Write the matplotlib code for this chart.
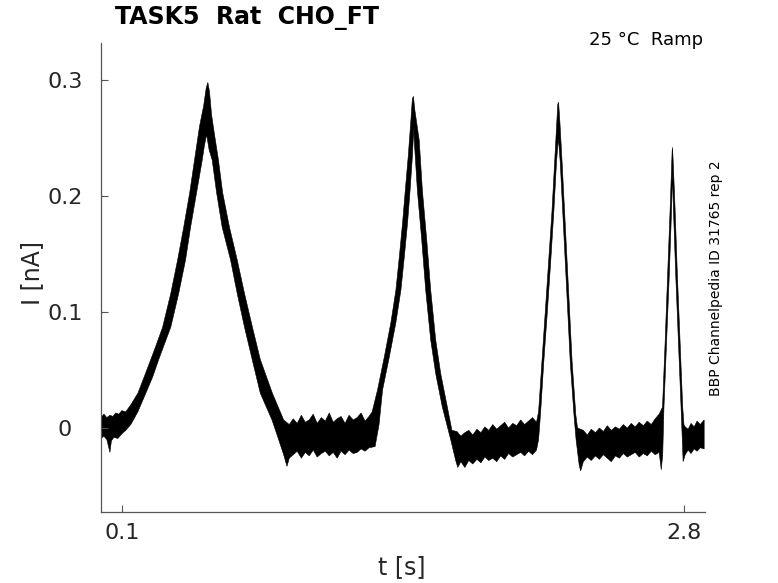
import numpy as np
import matplotlib
matplotlib.use("Agg")
import matplotlib.pyplot as plt

# ---- data (time in s, current in nA) ----
# upper envelope of the overlaid noisy traces
top_t = [0.000, 0.014, 0.028, 0.043, 0.057, 0.071, 0.086, 0.100,
         0.119, 0.143, 0.177, 0.205, 0.239, 0.268, 0.296, 0.335, 0.368, 0.397,
         0.426, 0.449, 0.473, 0.493, 0.505, 0.513, 0.521, 0.531, 0.545,
         0.564, 0.584, 0.617, 0.654, 0.689, 0.727, 0.765, 0.823, 0.877,
         0.904, 0.923, 0.942, 0.962, 0.981, 1.000, 1.019, 1.038, 1.058, 1.077,
         1.096, 1.115, 1.134, 1.153, 1.172, 1.191, 1.211, 1.230, 1.249, 1.268,
         1.287, 1.302,
         1.328, 1.360, 1.392, 1.416, 1.432, 1.448, 1.461, 1.475, 1.487, 1.495,
         1.500, 1.507,
         1.528, 1.543, 1.564, 1.583, 1.607, 1.631, 1.663, 1.685,
         1.709, 1.728, 1.747, 1.766, 1.785, 1.805, 1.824, 1.843, 1.862, 1.881,
         1.900, 1.919, 1.938, 1.957, 1.977, 1.996, 2.015, 2.034, 2.053, 2.072,
         2.091,
         2.101, 2.117, 2.133, 2.149, 2.165, 2.178, 2.193, 2.197,
         2.203, 2.214, 2.230, 2.246, 2.262, 2.280, 2.288,
         2.316, 2.335, 2.354, 2.374, 2.393, 2.412, 2.431, 2.450, 2.470, 2.489,
         2.508, 2.527, 2.546, 2.565, 2.584, 2.604, 2.623, 2.642, 2.661, 2.680,
         2.696, 2.709, 2.721, 2.733, 2.742, 2.744,
         2.747, 2.756, 2.767, 2.780, 2.793, 2.799,
         2.805, 2.819, 2.833, 2.848, 2.862, 2.877, 2.896]
top_i = [0.009, 0.012, 0.009, 0.011, 0.010, 0.013, 0.012, 0.015,
         0.014, 0.020, 0.030, 0.043, 0.059, 0.073, 0.087, 0.116, 0.145, 0.173,
         0.203, 0.231, 0.260, 0.278, 0.293, 0.298, 0.290, 0.270, 0.253,
         0.231, 0.203, 0.173, 0.145, 0.116, 0.087, 0.059, 0.030, 0.007,
         0.003, 0.008, 0.004, 0.011, 0.005, 0.007, 0.012, 0.004, 0.009, 0.006,
         0.013, 0.005, 0.008, 0.010, 0.004, 0.011, 0.007, 0.009, 0.013, 0.006,
         0.010, 0.014,
         0.033, 0.061, 0.091, 0.119, 0.147, 0.177, 0.205, 0.234, 0.263, 0.284,
         0.286, 0.274,
         0.248, 0.205, 0.162, 0.119, 0.076, 0.047, 0.018, -0.002,
         -0.003, -0.007, -0.004, -0.002, -0.006, -0.001, -0.004, 0.001, -0.002, 0.003,
         -0.001, 0.002, 0.005, 0.000, 0.004, 0.002, 0.007, 0.003, 0.006, 0.009,
         0.005,
         0.014, 0.057, 0.100, 0.143, 0.186, 0.229, 0.279, 0.281,
         0.265, 0.229, 0.172, 0.115, 0.057, 0.011, 0.000,
         -0.002, -0.006, -0.001, -0.004, 0.000, -0.003, 0.002, -0.002, 0.001, -0.001,
         0.003, 0.000, 0.004, 0.001, 0.005, 0.002, 0.006, 0.003, 0.008, 0.012,
         0.018, 0.076, 0.134, 0.191, 0.238, 0.242,
         0.231, 0.191, 0.134, 0.076, 0.018, 0.003,
         0.001, -0.001, 0.004, 0.001, 0.006, 0.003, 0.007]

# lower envelope of the overlaid noisy traces
bot_t = [0.000, 0.014, 0.028, 0.043, 0.050, 0.062, 0.081, 0.100, 0.119,
         0.143, 0.177, 0.215, 0.248, 0.277, 0.306, 0.335, 0.373, 0.406, 0.430,
         0.459, 0.486, 0.497, 0.507,
         0.519, 0.534, 0.555, 0.582, 0.622, 0.654, 0.689, 0.726, 0.765, 0.821,
         0.853, 0.877, 0.893, 0.904,
         0.923, 0.942, 0.962, 0.981, 1.000, 1.019, 1.038, 1.058, 1.077, 1.096,
         1.115, 1.134, 1.153, 1.172, 1.191, 1.211, 1.230, 1.249, 1.268, 1.287,
         1.316,
         1.335, 1.352, 1.384, 1.416, 1.440, 1.456, 1.472, 1.484, 1.495, 1.502,
         1.504, 1.519, 1.540, 1.559, 1.583, 1.607, 1.639, 1.679, 1.703, 1.713,
         1.728, 1.747, 1.766, 1.785, 1.805, 1.824, 1.843, 1.862, 1.881, 1.900,
         1.919, 1.938, 1.957, 1.977, 1.996, 2.015, 2.034, 2.053, 2.072, 2.091,
         2.101,
         2.111, 2.126, 2.143, 2.159, 2.174, 2.187, 2.196,
         2.205, 2.221, 2.237, 2.253, 2.271, 2.281, 2.296, 2.303,
         2.316, 2.335, 2.354, 2.374, 2.393, 2.412, 2.431, 2.450, 2.470, 2.489,
         2.508, 2.527, 2.546, 2.565, 2.584, 2.604, 2.623, 2.642, 2.661, 2.680,
         2.690, 2.697,
         2.703, 2.716, 2.729, 2.740, 2.744,
         2.748, 2.759, 2.772, 2.785, 2.791, 2.795,
         2.805, 2.819, 2.833, 2.848, 2.862, 2.877, 2.896]
bot_i = [-0.009, -0.007, -0.010, -0.021, -0.011, -0.008, -0.009, -0.005, -0.002,
         0.003, 0.014, 0.030, 0.044, 0.059, 0.073, 0.087, 0.116, 0.145, 0.173,
         0.203, 0.231, 0.244, 0.253,
         0.240, 0.231, 0.203, 0.173, 0.145, 0.116, 0.087, 0.059, 0.030, 0.007,
         -0.010, -0.023, -0.033, -0.026,
         -0.023, -0.020, -0.026, -0.021, -0.024, -0.019, -0.025, -0.022, -0.020, -0.024,
         -0.021, -0.026, -0.020, -0.023, -0.019, -0.022, -0.021, -0.018, -0.020, -0.017,
         -0.016,
         0.003, 0.033, 0.061, 0.091, 0.119, 0.147, 0.177, 0.205, 0.234, 0.259,
         0.248, 0.205, 0.162, 0.119, 0.076, 0.047, 0.018, -0.010, -0.028, -0.034,
         -0.029, -0.034, -0.028, -0.031, -0.027, -0.030, -0.025, -0.028, -0.026, -0.029,
         -0.024, -0.027, -0.022, -0.025, -0.023, -0.021, -0.024, -0.020, -0.023, -0.019,
         -0.010,
         0.014, 0.057, 0.100, 0.143, 0.186, 0.229, 0.250,
         0.229, 0.172, 0.115, 0.057, 0.011, -0.010, -0.032, -0.037,
         -0.029, -0.025, -0.028, -0.024, -0.027, -0.023, -0.026, -0.029, -0.024, -0.026,
         -0.022, -0.025, -0.023, -0.021, -0.025, -0.022, -0.024, -0.020, -0.023, -0.021,
         -0.036, -0.023,
         0.018, 0.076, 0.134, 0.191, 0.220,
         0.191, 0.134, 0.076, 0.018, -0.010, -0.029,
         -0.023, -0.019, -0.022, -0.018, -0.020, -0.017, -0.018]

x_ticks = [0.1, 2.8]
x_ticklabels = ["0.1", "2.8"]
y_ticks = [0.0, 0.1, 0.2, 0.3]
y_ticklabels = ["0", "0.1", "0.2", "0.3"]

title = "TASK5  Rat  CHO_FT"
condition = "25 \u00b0C  Ramp"
source = "BBP Channelpedia ID 31765 rep 2"

# ---- figure ----
plt.rcParams['font.family'] = ['DejaVu Sans']
fig = plt.figure(figsize=(7.78, 5.83), dpi=100)
ax = fig.add_axes([101 / 778, 1 - 512 / 583, 604 / 778, 469 / 583])

poly_t = np.concatenate([top_t, bot_t[::-1]])
poly_i = np.concatenate([top_i, bot_i[::-1]])
ax.fill(poly_t, poly_i, facecolor='black', edgecolor='black', lw=0.4)

ax.set_xlim(0.0, 2.9)
ax.set_ylim(-0.0724, 0.332)

for side in ('top', 'right'):
    ax.spines[side].set_visible(False)
for side in ('left', 'bottom'):
    ax.spines[side].set_color('#555555')
    ax.spines[side].set_linewidth(0.9)

ax.set_xticks(x_ticks)
ax.set_xticklabels(x_ticklabels)
ax.set_yticks(y_ticks)
ax.set_yticklabels(y_ticklabels)
ax.tick_params(direction='in', length=5, width=0.8, color='#555555',
               labelcolor='#262626', labelsize=16)
ax.tick_params(axis='x', pad=8)
ax.tick_params(axis='y', pad=26)
for lab in ax.get_yticklabels():
    lab.set_horizontalalignment('center')

fig.text(402 / 778, 1 - 567 / 583, "t [s]", ha='center', va='center',
         fontsize=17, color='#262626')
fig.text(32 / 778, 1 - 273 / 583, "I [nA]", ha='center', va='center',
         rotation=90, fontsize=17, color='#262626')

fig.text(115 / 778, 1 - 18 / 583, title, ha='left', va='center',
         fontsize=17, fontweight='bold', color='black')
fig.text(703 / 778, 1 - 40 / 583, condition, ha='right', va='center',
         fontsize=13, color='black')
fig.text(716 / 778, 1 - 278 / 583, source, ha='center', va='center',
         rotation=90, fontsize=10, color='black')

fig.savefig("out.png", dpi=100)
